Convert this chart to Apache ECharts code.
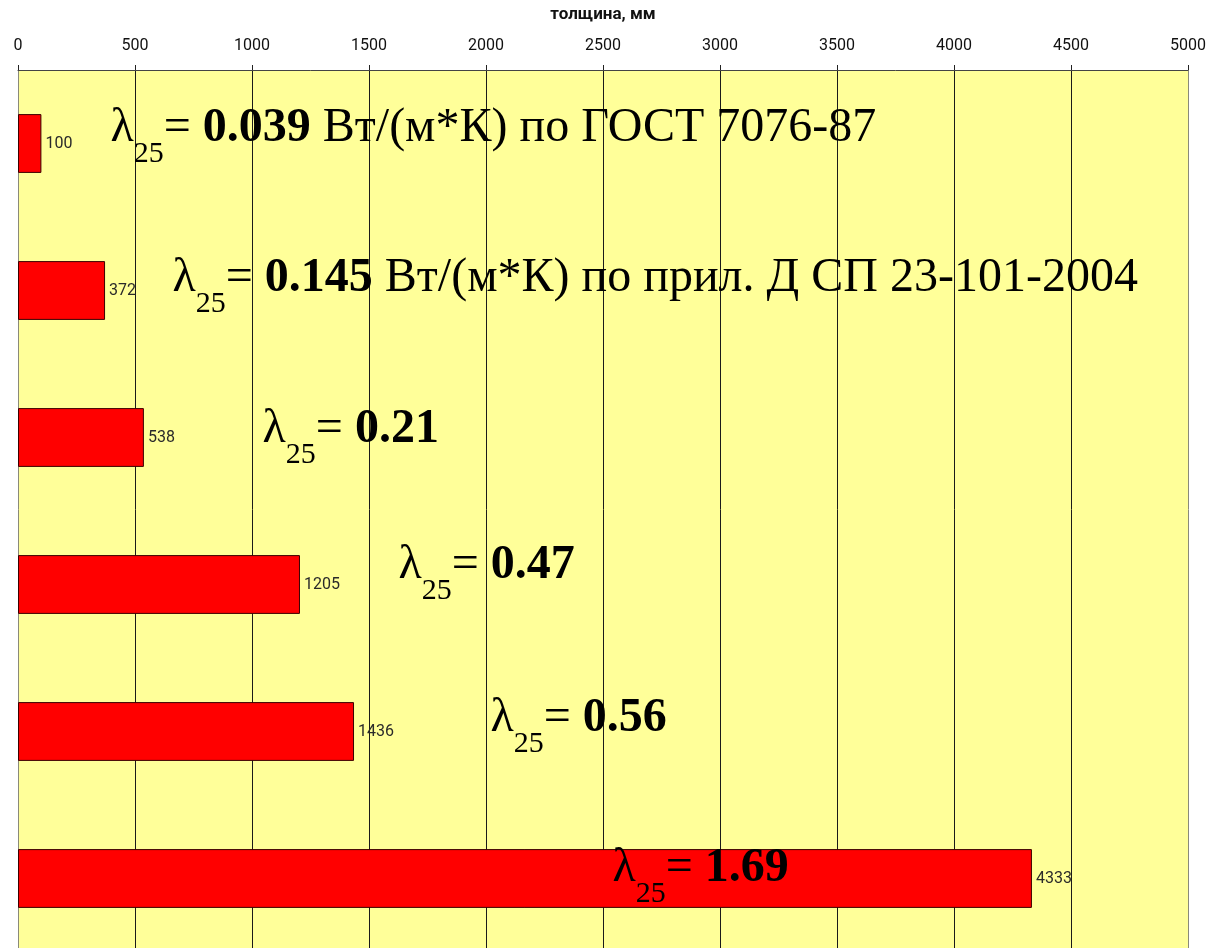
<!DOCTYPE html>
<html>
<head>
<meta charset="utf-8">
<script src="https://cdn.jsdelivr.net/npm/echarts@6/dist/echarts.min.js"></script>
<style>
  html, body { margin: 0; padding: 0; background: #ffffff; }
  #chart { width: 1216px; height: 948px; }
</style>
</head>
<body>
<div id="chart"></div>
<script>
// Thermal conductivity at 25 °C of each material, used as category keys
const lambdaValues = ['0.039', '0.145', '0.21', '0.47', '0.56', '1.69'];
// Equivalent wall thickness, mm
const thickness = [100, 372, 538, 1205, 1436, 4333];
// Source of each conductivity value (empty when none is given)
const lambdaSources = [
  ' Вт/(м*К) по ГОСТ 7076-87',
  ' Вт/(м*К) по прил. Д СП 23-101-2004',
  '', '', '', ''
];
// Axis ticks, mm
const tickMin = 0, tickMax = 5000, tickStep = 500;
const axisTitle = 'толщина, мм';

// Layout of the λ annotations: start along the thickness axis, and a small vertical nudge in px
const noteAnchor = [393, 658, 1043, 1624, 2017, 2538];
const noteNudge = [-15, -12, -8, -19, -13, -10];

const chart = echarts.init(document.getElementById('chart'));

const tickCount = (tickMax - tickMin) / tickStep + 1;
const splitColors = [];
for (let i = 0; i < tickCount; i++) {
  splitColors.push(i === 0 || i === tickCount - 1 ? '#8a8a7a' : '#1a1a1a');
}

const serif = '"Liberation Serif", "Times New Roman", serif';
const sans = 'Roboto, "Liberation Sans", Arial, sans-serif';

chart.setOption({
  backgroundColor: '#ffffff',
  animation: false,
  grid: {
    left: 18,
    right: 28,
    top: 70,
    bottom: -4,
    outerBoundsMode: 'none',
    containLabel: false,
    show: true,
    backgroundColor: '#FFFF99',
    borderWidth: 0
  },
  xAxis: {
    type: 'value',
    position: 'top',
    min: tickMin,
    max: tickMax,
    interval: tickStep,
    name: axisTitle,
    nameLocation: 'middle',
    nameGap: 47,
    nameMoveOverlap: false,
    nameTextStyle: {
      fontFamily: sans,
      fontSize: 17,
      fontWeight: 'bold',
      color: '#111'
    },
    axisLine: { show: true, lineStyle: { color: '#444', width: 1 } },
    axisTick: { show: true, inside: false, length: 5, lineStyle: { color: '#222' } },
    axisLabel: {
      margin: 16,
      fontFamily: sans,
      fontSize: 16,
      color: '#111',
      formatter: (v) => String(v)
    },
    splitLine: { show: true, lineStyle: { color: splitColors, width: 1 } }
  },
  yAxis: {
    type: 'category',
    data: lambdaValues,
    inverse: true,
    axisLine: { show: false },
    axisTick: { show: false },
    axisLabel: { show: false },
    splitLine: { show: false }
  },
  series: [
    {
      type: 'bar',
      data: thickness,
      barWidth: '40%',
      itemStyle: { color: '#FF0000', borderColor: '#3a0000', borderWidth: 1 },
      label: {
        show: true,
        position: 'right',
        distance: 4,
        fontFamily: sans,
        fontSize: 16,
        color: '#2a2a2a'
      },
      z: 2
    },
    {
      type: 'scatter',
      silent: true,
      symbolSize: 1,
      itemStyle: { color: 'rgba(0,0,0,0)', opacity: 1 },
      data: noteAnchor.map((x, i) => ({
        value: [x, lambdaValues[i]],
        label: { offset: [0, noteNudge[i]] }
      })),
      label: {
        show: true,
        position: 'right',
        distance: 0,
        opacity: 1,
        formatter: (p) => {
          const i = p.dataIndex;
          let s = '{l|λ}{s|25}{e|= }{b|' + lambdaValues[i] + '}';
          if (lambdaSources[i]) s += '{t|' + lambdaSources[i] + '}';
          return s;
        },
        rich: {
          l: { fontFamily: serif, fontSize: 48, color: '#000' },
          s: { fontFamily: serif, fontSize: 30, color: '#000', padding: [52, 0, 0, 0] },
          e: { fontFamily: serif, fontSize: 48, color: '#000' },
          b: { fontFamily: serif, fontSize: 48, fontWeight: 'bold', color: '#000' },
          t: { fontFamily: serif, fontSize: 48, color: '#000' }
        }
      },
      z: 5
    }
  ]
});
</script>
</body>
</html>
